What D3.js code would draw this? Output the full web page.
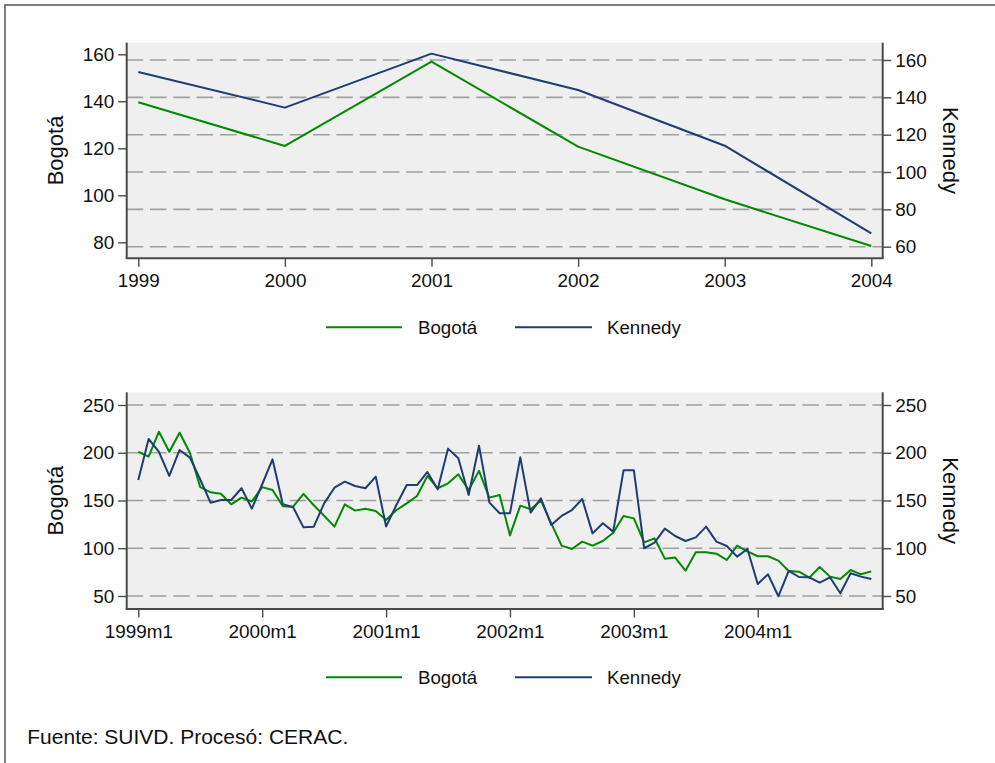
<!DOCTYPE html>
<html><head><meta charset="utf-8">
<script src="https://cdn.jsdelivr.net/npm/d3@7"></script>
<style>
html,body{margin:0;padding:0;background:#fff;}
svg{display:block;font-family:"Liberation Sans",Arial,Helvetica,sans-serif;}
</style></head>
<body>
<svg id="chart" width="995" height="763"></svg>
<script>
// ---- data ----
const years = [1999, 2000, 2001, 2002, 2003, 2004];
const bogotaAnnual = [139.6, 121.0, 156.9, 120.7, 98.3, 78.4];
const kennedyAnnual = [153.6, 134.5, 163.4, 143.9, 114.1, 67.1];

const bogotaMonthly = [
  201, 196, 222, 201, 221, 200, 164, 158.6, 157, 146, 153, 149,
  164, 161, 144, 143.5, 157, 145, 134, 122.6, 146, 139.4, 141.4, 139,
  129.6, 140, 147, 154.7, 175.7, 162.8, 168, 177.4, 161, 181, 153, 155.8,
  113.5, 144.6, 140.8, 150, 126, 102.7, 99.2, 106.9, 102.7, 107.6, 116.3, 133.8,
  131.3, 106.2, 110.4, 89.1, 90.2, 76.5, 95.7, 95.7, 94.3, 87.7, 102.7, 96.8,
  91.6, 91.6, 87, 76.2, 75.5, 69.2, 80.4, 70.3, 67.8, 77.2, 72.7, 75.8
];
const kennedyMonthly = [
  171.5, 214.4, 201, 175.7, 202.9, 194.9, 172, 147.7, 150.5, 150.5, 162.8, 141.5,
  167, 193.1, 146, 142.9, 121.9, 122.6, 147, 163.4, 169.7, 165.2, 162.8, 175,
  122.8, 145.3, 166.2, 166.2, 179.9, 161.7, 204.3, 194.2, 155.8, 207.4, 148, 136.6,
  136.6, 195.2, 137.3, 152.3, 124.4, 133.8, 140, 151.6, 115.6, 126.1, 117.4, 181.6,
  181.6, 100, 105.9, 120.5, 112.8, 107.6, 111.4, 122.6, 106.9, 102.4, 91.2, 99.2,
  62.6, 72.7, 49.7, 76.2, 69.9, 69.6, 64, 69.6, 52.8, 73.8, 70.3, 67.8
];
const monthIndex = d3.range(bogotaMonthly.length);
const monthTickIdx = [0, 12, 24, 36, 48, 60];
const monthTickLabels = ["1999m1", "2000m1", "2001m1", "2002m1", "2003m1", "2004m1"];
const topLeftTicks = [80, 100, 120, 140, 160];
const topRightTicks = [60, 80, 100, 120, 140, 160];
const bottomTicks = [50, 100, 150, 200, 250];
const seriesNames = ["Bogotá", "Kennedy"];
const footnote = "Fuente: SUIVD. Procesó: CERAC.";

// ---- style ----
const GREEN = "#008a00", NAVY = "#1f3d72", AXIS = "#4a4a4a", GRID = "#a0a0a0", BG = "#efefef";
const TICKFS = 18.9, TITLEFS = 22, LEGFS = 18.7, NOTEFS = 21;

const svg = d3.select("#chart");
svg.append("rect").attr("x", 5).attr("y", 5).attr("width", 1000).attr("height", 800)
  .attr("fill", "#fff").attr("stroke", "#555").attr("stroke-width", 1.5);

function panel(cfg) {
  const g = svg.append("g");
  const { L, R, T, B } = cfg;
  g.append("rect").attr("x", L).attr("y", T).attr("width", R - L).attr("height", B - T).attr("fill", BG);
  cfg.gridTicks.forEach(v => {
    g.append("line").attr("x1", L).attr("x2", R).attr("y1", cfg.yR(v)).attr("y2", cfg.yR(v))
      .attr("stroke", GRID).attr("stroke-width", 1.6).attr("stroke-dasharray", "16.5,6.8");
  });
  const lineL = d3.line().x((d, i) => cfg.x(cfg.xs[i])).y(d => cfg.yL(d));
  const lineR = d3.line().x((d, i) => cfg.x(cfg.xs[i])).y(d => cfg.yR(d));
  g.append("path").attr("d", lineL(cfg.left)).attr("fill", "none").attr("stroke", GREEN)
    .attr("stroke-width", 2).attr("stroke-linejoin", "round");
  g.append("path").attr("d", lineR(cfg.right)).attr("fill", "none").attr("stroke", NAVY)
    .attr("stroke-width", 2).attr("stroke-linejoin", "round");

  const axL = d3.axisLeft(cfg.yL).tickValues(cfg.leftTicks).tickSize(8.5).tickPadding(4);
  const axR = d3.axisRight(cfg.yR).tickValues(cfg.gridTicks).tickSize(8.5).tickPadding(4);
  const axB = d3.axisBottom(cfg.x).tickValues(cfg.xTicks).tickSize(8.5).tickPadding(7)
    .tickFormat(cfg.xFormat);
  const gl = g.append("g").attr("transform", `translate(${L},0)`).call(axL);
  const gr = g.append("g").attr("transform", `translate(${R},0)`).call(axR);
  const gb = g.append("g").attr("transform", `translate(0,${B})`).call(axB);
  [gl, gr, gb].forEach(a => {
    a.select(".domain").remove();
    a.selectAll(".tick line").attr("stroke", AXIS).attr("stroke-width", 1.4);
    a.selectAll(".tick text").attr("fill", "#111").style("font-size", TICKFS + "px")
      .style("font-family", "'Liberation Sans', Arial, sans-serif");
  });
  g.append("line").attr("x1", L).attr("x2", L).attr("y1", T).attr("y2", B).attr("stroke", AXIS).attr("stroke-width", 2);
  g.append("line").attr("x1", R).attr("x2", R).attr("y1", T).attr("y2", B).attr("stroke", AXIS).attr("stroke-width", 2);
  g.append("line").attr("x1", L - 1).attr("x2", R + 1).attr("y1", B).attr("y2", B).attr("stroke", AXIS).attr("stroke-width", 2);

  const cy = (T + B) / 2;
  g.append("text").attr("transform", `translate(63,${cy}) rotate(-90)`).attr("text-anchor", "middle")
    .style("font-size", TITLEFS + "px").attr("fill", "#111").text(seriesNames[0]);
  g.append("text").attr("transform", `translate(943,${cy}) rotate(90)`).attr("text-anchor", "middle")
    .style("font-size", TITLEFS + "px").attr("fill", "#111").text(seriesNames[1]);

  const ly = cfg.legendY;
  g.append("line").attr("x1", 326).attr("x2", 402).attr("y1", ly).attr("y2", ly).attr("stroke", GREEN).attr("stroke-width", 2);
  g.append("text").attr("x", 418).attr("y", ly).attr("dy", "0.35em").style("font-size", LEGFS + "px").attr("fill", "#111").text(seriesNames[0]);
  g.append("line").attr("x1", 515).attr("x2", 592).attr("y1", ly).attr("y2", ly).attr("stroke", NAVY).attr("stroke-width", 2);
  g.append("text").attr("x", 607).attr("y", ly).attr("dy", "0.35em").style("font-size", LEGFS + "px").attr("fill", "#111").text(seriesNames[1]);
}

panel({
  L: 126.7, R: 882.7, T: 42.7, B: 258.3,
  x: d3.scaleLinear().domain([years[0], years[years.length - 1]]).range([138.3, 871.3]),
  xs: years, xTicks: years, xFormat: d3.format("d"),
  yL: d3.scaleLinear().domain([80, 160]).range([242.3, 54.3]),
  yR: d3.scaleLinear().domain([60, 160]).range([246.7, 60]),
  leftTicks: topLeftTicks, gridTicks: topRightTicks,
  left: bogotaAnnual, right: kennedyAnnual,
  legendY: 327.3
});

const yB = d3.scaleLinear().domain([50, 250]).range([596, 405]);
panel({
  L: 126.7, R: 882.7, T: 392.3, B: 609,
  x: d3.scaleLinear().domain([0, 71]).range([138.3, 871.3]),
  xs: monthIndex, xTicks: monthTickIdx, xFormat: (d, i) => monthTickLabels[i],
  yL: yB, yR: yB,
  leftTicks: bottomTicks, gridTicks: bottomTicks,
  left: bogotaMonthly, right: kennedyMonthly,
  legendY: 677.3
});

svg.append("text").attr("x", 27.3).attr("y", 744).style("font-size", NOTEFS + "px").attr("fill", "#111").text(footnote);
</script>
</body></html>
